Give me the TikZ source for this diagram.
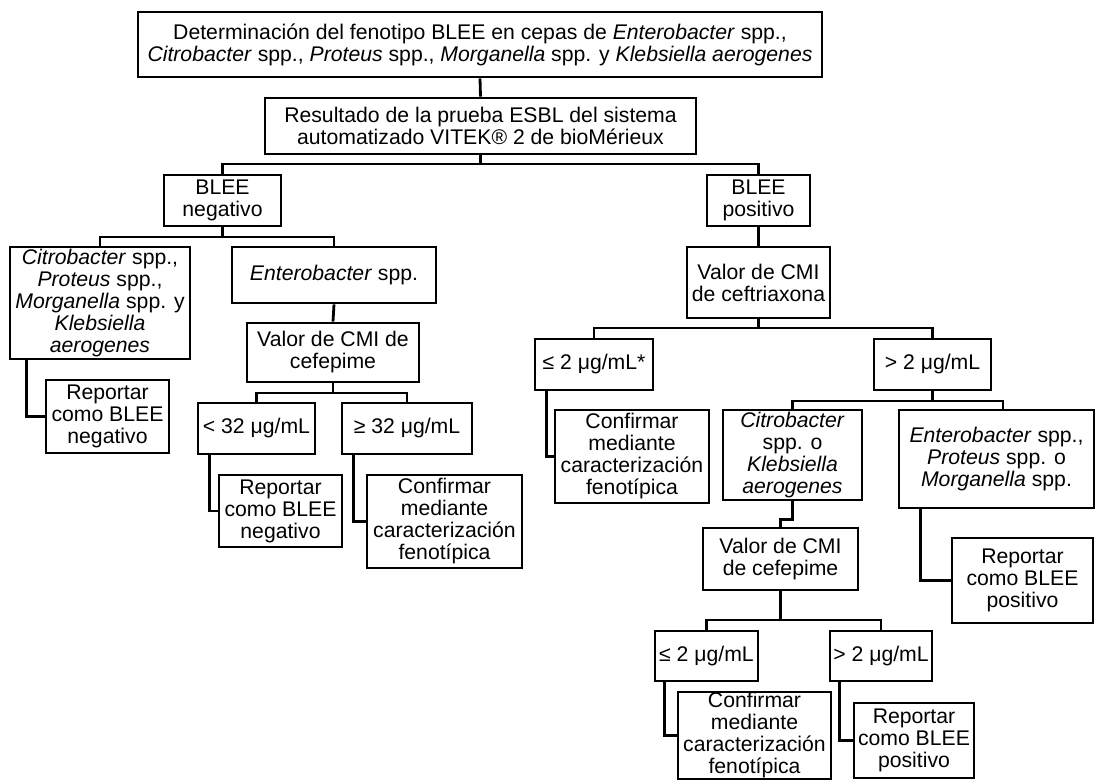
\documentclass[tikz,border=0pt]{standalone}
\usepackage{fontspec}
\setmainfont{Liberation Sans}
\tikzset{
  bx/.style={draw, line width=2.1pt, inner sep=0pt, align=center, font=\fontsize{15.9pt}{16.5pt}\selectfont},
  ln/.style={line width=2.1pt}
}
\begin{document}
\begin{tikzpicture}[x=0.75pt,y=-0.75pt]
\useasboundingbox (0,0) rectangle (1096,782);
% nodes
\node[bx,minimum width=513pt,minimum height=48.75pt] (top) at (480,44.5) {Determinación del fenotipo BLEE en cepas de \textit{Enterobacter} spp.,\\\textit{Citrobacter} spp., \textit{Proteus} spp., \textit{Morganella} spp. y \textit{Klebsiella aerogenes}};
\node[bx,minimum width=323.25pt,minimum height=42pt] (res) at (480.5,126) {Resultado de la prueba ESBL del sistema\\automatizado VITEK® 2 de bioMérieux};
\node[bx,minimum width=87.75pt,minimum height=38.25pt] (neg) at (222.5,200.5) {BLEE\\negativo};
\node[bx,minimum width=77.25pt,minimum height=38.25pt] (pos) at (758.5,200.5) {BLEE\\positivo};
\node[bx,minimum width=135pt,minimum height=84pt] (citL) at (100,303) {\textit{Citrobacter} spp.,\\\textit{Proteus} spp.,\\\textit{Morganella} spp. y\\\textit{Klebsiella}\\\textit{aerogenes}};
\node[bx,minimum width=153pt,minimum height=42pt] (entL) at (334,275) {\textit{Enterobacter} spp.};
\node[bx,minimum width=129pt,minimum height=44.25pt] (valL) at (333,352.5) {Valor de CMI de\\cefepime};
\node[bx,minimum width=92.25pt,minimum height=54.75pt] (repL1) at (107.5,416.5) {Reportar\\como BLEE\\negativo};
\node[bx,minimum width=87.75pt,minimum height=38.25pt] (lt32) at (256.5,428.5) {< 32 μg/mL};
\node[bx,minimum width=97.5pt,minimum height=38.25pt] (ge32) at (407,428.5) {≥ 32 μg/mL};
\node[bx,minimum width=92.25pt,minimum height=54pt] (repL2) at (280.5,511) {Reportar\\como BLEE\\negativo};
\node[bx,minimum width=116.25pt,minimum height=69.75pt] (confL) at (444.5,521.5) {Confirmar\\mediante\\caracterización\\fenotípica};
\node[bx,minimum width=107.25pt,minimum height=53.25pt] (valR) at (758.5,282.5) {Valor de CMI\\de ceftriaxona};
\node[bx,minimum width=88.5pt,minimum height=38.25pt] (le2s) at (594,364.5) {≤ 2 μg/mL*};
\node[bx,minimum width=87.75pt,minimum height=38.25pt] (gt2) at (932.5,364.5) {> 2 μg/mL};
\node[bx,minimum width=115.5pt,minimum height=69.75pt] (confR) at (632,456.5) {Confirmar\\mediante\\caracterización\\fenotípica};
\node[bx,minimum width=104.25pt,minimum height=67.5pt] (citR) at (792.5,455) {\textit{Citrobacter}\\spp. o\\\textit{Klebsiella}\\\textit{aerogenes}};
\node[bx,minimum width=146.25pt,minimum height=73.5pt] (entR) at (996.5,459) {\textit{Enterobacter} spp.,\\\textit{Proteus} spp. o\\\textit{Morganella} spp.};
\node[bx,minimum width=105.75pt,minimum height=63.75pt] (repR1) at (1022.5,580.5) {Reportar\\como BLEE\\positivo};
\node[bx,minimum width=116.25pt,minimum height=46.5pt] (valR2) at (780.5,559) {Valor de CMI\\de cefepime};
\node[bx,minimum width=77.25pt,minimum height=37.5pt] (le2) at (706.5,656) {≤ 2 μg/mL};
\node[bx,minimum width=76.5pt,minimum height=37.5pt] (gt2b) at (881,656) {> 2 μg/mL};
\node[bx,minimum width=114.75pt,minimum height=65.25pt] (confR2) at (754.5,735.5) {Confirmar\\mediante\\caracterización\\fenotípica};
\node[bx,minimum width=90pt,minimum height=56.25pt] (repR2) at (914,740.5) {Reportar\\como BLEE\\positivo};
% junction levels
\coordinate (j1) at (0,164);
\coordinate (j2) at (0,237);
\coordinate (j3) at (0,393);
\coordinate (j4) at (0,328);
\coordinate (j5) at (0,401);
\coordinate (j6) at (0,620);
% connectors
\draw[ln] (top.south) -- (res.north);
\draw[ln] (res.south) -- (res.south |- j1);
\draw[ln] (neg.north) |- (pos.north |- j1) -- (pos.north);
\draw[ln] (neg.south) -- (neg.south |- j2);
\draw[ln] (citL.north) |- (entL.north |- j2) -- (entL.north);
\draw[ln] (entL.south) -- (valL.north);
\draw[ln] (valL.south) -- (valL.south |- j3);
\draw[ln] (lt32.north) |- (ge32.north |- j3) -- (ge32.north);
\draw[ln] (repL1.west) -| ([xshift=13.5pt]citL.south west);
\draw[ln] (repL2.west) -| ([xshift=9.75pt]lt32.south west);
\draw[ln] (confL.west) -| ([xshift=9.75pt]ge32.south west);
\draw[ln] (pos.south) -- (valR.north);
\draw[ln] (valR.south) -- (valR.south |- j4);
\draw[ln] (le2s.north) |- (gt2.north |- j4) -- (gt2.north);
\draw[ln] (confR.west) -| ([xshift=9.4pt]le2s.south west);
\draw[ln] (gt2.south) -- (gt2.south |- j5);
\draw[ln] (citR.north) |- ([xshift=4.9pt]entR.north |- j5) -- ([xshift=4.9pt]entR.north);
\draw[ln] (citR.south) -- ++(0,18) -| (valR2.north);
\draw[ln] (repR1.west) -| ([xshift=17.25pt]entR.south west);
\draw[ln] (valR2.south) -- (valR2.south |- j6);
\draw[ln] (le2.north) |- (gt2b.north |- j6) -- (gt2b.north);
\draw[ln] (confR2.west) -| ([xshift=8.25pt]le2.south west);
\draw[ln] (repR2.west) -| ([xshift=8.25pt]gt2b.south west);
\end{tikzpicture}
\end{document}
